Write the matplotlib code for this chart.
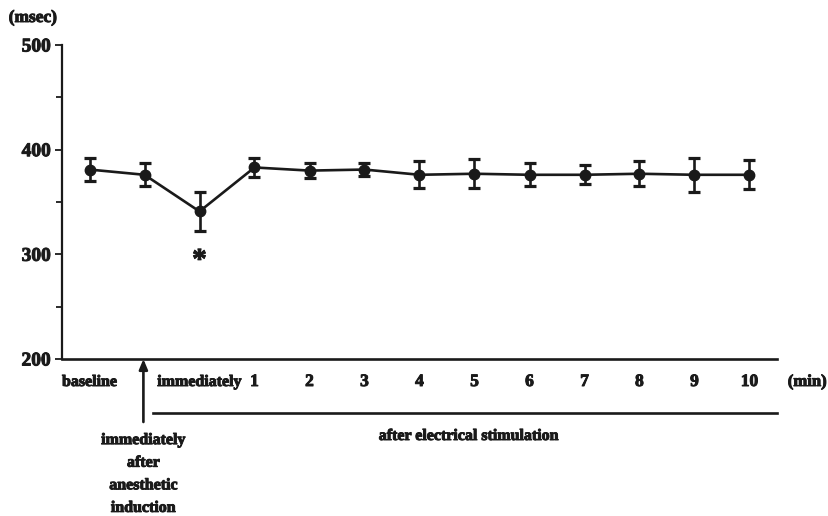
import matplotlib
matplotlib.use("Agg")
import matplotlib.pyplot as plt
import matplotlib.patheffects as pe
from matplotlib.transforms import blended_transform_factory
from matplotlib.ticker import MultipleLocator

# ---- data ----
categories = ["baseline", "after anesthetic induction", "immediately", "1", "2", "3",
              "4", "5", "6", "7", "8", "9", "10"]
tick_labels = ["baseline", "", "immediately", "1", "2", "3", "4", "5", "6", "7", "8", "9", "10"]
means = [381, 376, 341, 383, 380, 381, 376, 377, 376, 376, 377, 376, 376]
errors = [11, 11, 19, 9, 7, 6.5, 13, 14, 11, 9, 12, 16, 14]
significant = [2]  # index with asterisk

W, H = 829, 516
fig = plt.figure(figsize=(W / 100, H / 100), dpi=100)
INK = "#1a1a1a"
heavy = [pe.withStroke(linewidth=0.7, foreground=INK)]
font = {"family": ["Liberation Serif", "DejaVu Serif"], "weight": "bold"}

ax_left, ax_right, ax_top, ax_bot = 62, 777, 45, 359
ax = fig.add_axes([ax_left / W, 1 - ax_bot / H, (ax_right - ax_left) / W, (ax_bot - ax_top) / H])

x = list(range(len(means)))
ax.errorbar(x, means, yerr=errors, color=INK, lw=1.9, marker="o", ms=7.5,
            capsize=4.5, capthick=2.3, elinewidth=1.9, clip_on=False, zorder=3)

ax.set_xlim(-0.5, 12.5)
ax.set_ylim(200, 500)
ax.set_yticks([200, 300, 400, 500])
ax.yaxis.set_minor_locator(MultipleLocator(50))
ax.tick_params(axis="y", which="major", length=5, width=1.3, pad=3, direction="out", colors=INK)
ax.tick_params(axis="y", which="minor", length=4, width=1.3, direction="out", colors=INK)
for lbl in ax.get_yticklabels():
    lbl.set_fontfamily(font["family"])
    lbl.set_fontweight("bold")
    lbl.set_fontsize(14)
    lbl.set_color(INK)
    lbl.set_path_effects(heavy)
ax.set_xticks([])
for s in ["top", "right"]:
    ax.spines[s].set_visible(False)
ax.spines["left"].set_linewidth(1.6)
ax.spines["bottom"].set_linewidth(1.9)
ax.spines["left"].set_color(INK)
ax.spines["bottom"].set_color(INK)

# asterisk
for i in significant:
    ax.text(x[i], means[i] - errors[i] - 28, "*", ha="center", va="center",
            fontsize=21, color=INK, path_effects=heavy, **font)

tr = blended_transform_factory(ax.transData, fig.transFigure)
def fy(px):
    return 1 - px / H

# category labels
for xi, lab in zip(x, tick_labels):
    if lab:
        ax.text(xi, fy(382), lab, transform=tr, ha="center", va="center",
                fontsize=12.5 if lab.isdigit() else 11.5, color=INK,
                path_effects=heavy, **font)
ax.text(13.05, fy(382), "(min)", transform=tr, ha="center", va="center",
        fontsize=12, color=INK, clip_on=False, path_effects=heavy, **font)

# arrow for anesthetic induction
arrow_x = 0.98
ax.annotate("", xy=(arrow_x, fy(359)), xytext=(arrow_x, fy(422)),
            xycoords=tr, textcoords=tr,
            arrowprops=dict(arrowstyle="-|>,head_length=0.6,head_width=0.25",
                            color=INK, lw=1.9, shrinkA=0, shrinkB=0))
ax.text(arrow_x, fy(474), "immediately\nafter\nanesthetic\ninduction", transform=tr,
        ha="center", va="center", fontsize=11.5, linespacing=1.55, color=INK,
        path_effects=heavy, **font)

# horizontal bracket line for stimulation
ax.plot([1.16, 12.5], [fy(413), fy(413)], transform=tr, color=INK, lw=1.9,
        clip_on=False)
ax.text(6.9, fy(436), "after electrical stimulation", transform=tr, ha="center",
        va="center", fontsize=11.5, color=INK, path_effects=heavy, **font)

# unit label
fig.text(33 / W, fy(18), "(msec)", ha="center", va="center", fontsize=12.5,
         color=INK, path_effects=heavy, **font)

fig.savefig("out.png", dpi=100)
